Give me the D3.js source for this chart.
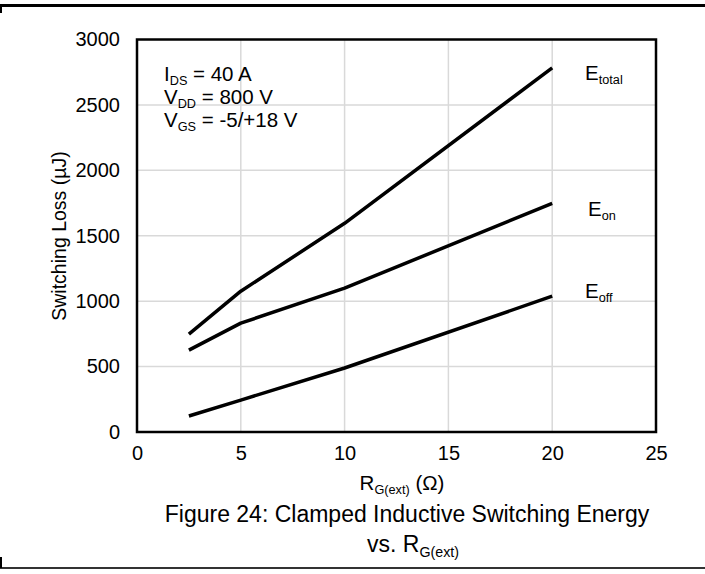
<!DOCTYPE html>
<html><head><meta charset="utf-8">
<script src="https://cdn.jsdelivr.net/npm/d3@7"></script>
<style>body{margin:0;background:#fff}svg{display:block;font-family:"Liberation Sans",Arial,sans-serif}</style>
</head><body><svg id="c" width="705" height="574"></svg>
<script>
const rg = [2.5, 5, 10, 20];
const eTotal = [748, 1076, 1595, 2783];
const eOn = [626, 832, 1099, 1748];
const eOff = [122, 244, 489, 1038];
const xTicks = [0, 5, 10, 15, 20, 25];
const yTicks = [0, 500, 1000, 1500, 2000, 2500, 3000];

const svg = d3.select("#c");
const L = 137, R = 656, T = 39.5, B = 432;
const x = d3.scaleLinear().domain([0, 25]).range([L, R]);
const y = d3.scaleLinear().domain([0, 3000]).range([B, T]);

// frame lines
svg.append("line").attr("x1",0).attr("x2",705).attr("y1",5.5).attr("y2",5.5).attr("stroke","#000").attr("stroke-width",3);
svg.append("line").attr("x1",1).attr("x2",1).attr("y1",4).attr("y2",13).attr("stroke","#000").attr("stroke-width",2);
svg.append("line").attr("x1",0).attr("x2",705).attr("y1",568).attr("y2",568).attr("stroke","#333").attr("stroke-width",2);
svg.append("line").attr("x1",1).attr("x2",1).attr("y1",557).attr("y2",568).attr("stroke","#000").attr("stroke-width",2);

// grid
svg.append("g").selectAll("line").data(xTicks.slice(1,-1)).join("line")
  .attr("x1",d=>x(d)).attr("x2",d=>x(d)).attr("y1",T).attr("y2",B).attr("stroke","#d9d9d9").attr("stroke-width",1.5);
svg.append("g").selectAll("line").data(yTicks.slice(1,-1)).join("line")
  .attr("x1",L).attr("x2",R).attr("y1",d=>y(d)).attr("y2",d=>y(d)).attr("stroke","#d9d9d9").attr("stroke-width",1.5);

// axes (labels only)
const xa = svg.append("g").attr("transform",`translate(0,${B})`).call(d3.axisBottom(x).tickValues(xTicks).tickFormat(d3.format("d")).tickSize(0).tickPadding(14));
const ya = svg.append("g").attr("transform",`translate(${L},0)`).call(d3.axisLeft(y).tickValues(yTicks).tickFormat(d3.format("d")).tickSize(0).tickPadding(17));
[xa, ya].forEach(a=>{a.select(".domain").remove();a.selectAll("text").attr("font-size",20).attr("fill","#000").attr("font-family","Liberation Sans, Arial, sans-serif");});

// border
svg.append("rect").attr("x",L).attr("y",T).attr("width",R-L).attr("height",B-T).attr("fill","none").attr("stroke","#000").attr("stroke-width",2.5);

// lines
const line = d3.line().x((d,i)=>x(rg[i])).y(d=>y(d));
[eTotal, eOn, eOff].forEach(s=>{
  svg.append("path").attr("d", line(s)).attr("fill","none").attr("stroke","#000").attr("stroke-width",3.5).attr("stroke-linejoin","round");
});

// helper for subscript text
function sub(g, xx, yy, parts, size, anchor){
  const t = g.append("text").attr("x",xx).attr("y",yy).attr("font-size",size).attr("text-anchor",anchor||"start").attr("fill","#000");
  parts.forEach(p=>{
    const ts = t.append("tspan").text(p[0]);
    if (p[1]==="sub") ts.attr("font-size",size*0.62).attr("dy",size*0.2);
    else if (p[1]==="up") ts.attr("dy",-size*0.2);
  });
  return t;
}
sub(svg,164,81,[["I"],["DS","sub"],[" = 40 A","up"]],20.5);
sub(svg,164,104,[["V"],["DD","sub"],[" = 800 V","up"]],20.5);
sub(svg,164,127,[["V"],["GS","sub"],[" = -5/+18 V","up"]],20.5);

sub(svg,585,80,[["E"],["total","sub"]],20.5);
sub(svg,588,216,[["E"],["on","sub"]],20.5);
sub(svg,585,298,[["E"],["off","sub"]],20.5);

// axis titles
svg.append("text").attr("transform","translate(66,236) rotate(-90)").attr("text-anchor","middle").attr("font-size",19.5).attr("fill","#000").text("Switching Loss (µJ)");
sub(svg,402,490,[["R"],["G(ext)","sub"],[" (Ω)","up"]],20.5,"middle");
svg.append("text").attr("x",407).attr("y",522).attr("text-anchor","middle").attr("font-size",23).attr("fill","#000").text("Figure 24: Clamped Inductive Switching Energy");
sub(svg,413,552,[["vs. R"],["G(ext)","sub"]],23,"middle");
</script></body></html>
